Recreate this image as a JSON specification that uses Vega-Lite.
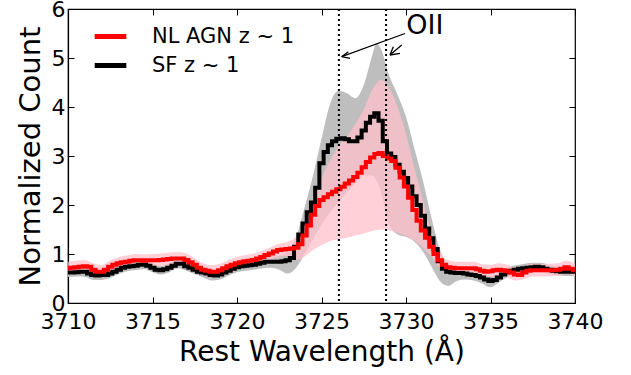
{
  "$schema": "https://vega.github.io/schema/vega-lite/v6.json",
  "width": 507,
  "height": 294,
  "autosize": {"type": "none"},
  "padding": {"left": 68, "top": 9, "right": 56, "bottom": 72},
  "background": "white",
  "config": {
    "font": "DejaVu Sans",
    "view": {"stroke": "black", "strokeWidth": 1.2},
    "axis": {"labelFont": "DejaVu Sans", "titleFont": "DejaVu Sans", "labelColor": "black", "titleColor": "black", "domainColor": "black", "tickColor": "black", "grid": false, "titleFontWeight": "normal", "labelFlush": false, "labelOverlap": false}
  },
  "datasets": {
    "lines": [
      {"w": 3710.00, "sf": 0.62, "agn": 0.71}, {"w": 3710.25, "sf": 0.62, "agn": 0.72}, {"w": 3710.50, "sf": 0.63, "agn": 0.73}, {"w": 3710.75, "sf": 0.64, "agn": 0.74},
      {"w": 3711.00, "sf": 0.64, "agn": 0.75}, {"w": 3711.25, "sf": 0.60, "agn": 0.74}, {"w": 3711.50, "sf": 0.57, "agn": 0.68}, {"w": 3711.75, "sf": 0.56, "agn": 0.64},
      {"w": 3712.00, "sf": 0.57, "agn": 0.64}, {"w": 3712.25, "sf": 0.57, "agn": 0.68}, {"w": 3712.50, "sf": 0.60, "agn": 0.74}, {"w": 3712.75, "sf": 0.64, "agn": 0.78},
      {"w": 3713.00, "sf": 0.68, "agn": 0.81}, {"w": 3713.25, "sf": 0.72, "agn": 0.83}, {"w": 3713.50, "sf": 0.74, "agn": 0.84}, {"w": 3713.75, "sf": 0.75, "agn": 0.86},
      {"w": 3714.00, "sf": 0.76, "agn": 0.87}, {"w": 3714.25, "sf": 0.78, "agn": 0.87}, {"w": 3714.50, "sf": 0.78, "agn": 0.86}, {"w": 3714.75, "sf": 0.76, "agn": 0.87},
      {"w": 3715.00, "sf": 0.72, "agn": 0.87}, {"w": 3715.25, "sf": 0.68, "agn": 0.87}, {"w": 3715.50, "sf": 0.67, "agn": 0.88}, {"w": 3715.75, "sf": 0.69, "agn": 0.89},
      {"w": 3716.00, "sf": 0.72, "agn": 0.90}, {"w": 3716.25, "sf": 0.76, "agn": 0.91}, {"w": 3716.50, "sf": 0.80, "agn": 0.91}, {"w": 3716.75, "sf": 0.80, "agn": 0.91},
      {"w": 3717.00, "sf": 0.75, "agn": 0.88}, {"w": 3717.25, "sf": 0.72, "agn": 0.83}, {"w": 3717.50, "sf": 0.68, "agn": 0.78}, {"w": 3717.75, "sf": 0.64, "agn": 0.72},
      {"w": 3718.00, "sf": 0.62, "agn": 0.68}, {"w": 3718.25, "sf": 0.60, "agn": 0.66}, {"w": 3718.50, "sf": 0.57, "agn": 0.64}, {"w": 3718.75, "sf": 0.56, "agn": 0.64},
      {"w": 3719.00, "sf": 0.58, "agn": 0.67}, {"w": 3719.25, "sf": 0.62, "agn": 0.71}, {"w": 3719.50, "sf": 0.66, "agn": 0.75}, {"w": 3719.75, "sf": 0.70, "agn": 0.78},
      {"w": 3720.00, "sf": 0.73, "agn": 0.81}, {"w": 3720.25, "sf": 0.75, "agn": 0.83}, {"w": 3720.50, "sf": 0.76, "agn": 0.85}, {"w": 3720.75, "sf": 0.77, "agn": 0.86},
      {"w": 3721.00, "sf": 0.78, "agn": 0.88}, {"w": 3721.25, "sf": 0.80, "agn": 0.91}, {"w": 3721.50, "sf": 0.82, "agn": 0.94}, {"w": 3721.75, "sf": 0.84, "agn": 0.98},
      {"w": 3722.00, "sf": 0.84, "agn": 1.01}, {"w": 3722.25, "sf": 0.84, "agn": 1.05}, {"w": 3722.50, "sf": 0.84, "agn": 1.08}, {"w": 3722.75, "sf": 0.85, "agn": 1.09},
      {"w": 3723.00, "sf": 0.87, "agn": 1.10}, {"w": 3723.25, "sf": 0.92, "agn": 1.11}, {"w": 3723.50, "sf": 1.15, "agn": 1.13}, {"w": 3723.75, "sf": 1.40, "agn": 1.20},
      {"w": 3724.00, "sf": 1.62, "agn": 1.38}, {"w": 3724.25, "sf": 1.85, "agn": 1.58}, {"w": 3724.50, "sf": 2.05, "agn": 1.80}, {"w": 3724.75, "sf": 2.35, "agn": 1.98},
      {"w": 3725.00, "sf": 2.85, "agn": 2.10}, {"w": 3725.25, "sf": 3.08, "agn": 2.16}, {"w": 3725.50, "sf": 3.22, "agn": 2.22}, {"w": 3725.75, "sf": 3.30, "agn": 2.27},
      {"w": 3726.00, "sf": 3.35, "agn": 2.32}, {"w": 3726.25, "sf": 3.36, "agn": 2.37}, {"w": 3726.50, "sf": 3.34, "agn": 2.44}, {"w": 3726.75, "sf": 3.30, "agn": 2.50},
      {"w": 3727.00, "sf": 3.30, "agn": 2.57}, {"w": 3727.25, "sf": 3.38, "agn": 2.66}, {"w": 3727.50, "sf": 3.52, "agn": 2.77}, {"w": 3727.75, "sf": 3.68, "agn": 2.88},
      {"w": 3728.00, "sf": 3.80, "agn": 2.97}, {"w": 3728.25, "sf": 3.87, "agn": 3.04}, {"w": 3728.50, "sf": 3.72, "agn": 3.06}, {"w": 3728.75, "sf": 3.30, "agn": 3.00},
      {"w": 3729.00, "sf": 3.05, "agn": 2.95}, {"w": 3729.25, "sf": 2.98, "agn": 2.90}, {"w": 3729.50, "sf": 2.82, "agn": 2.76}, {"w": 3729.75, "sf": 2.68, "agn": 2.56},
      {"w": 3730.00, "sf": 2.55, "agn": 2.38}, {"w": 3730.25, "sf": 2.38, "agn": 2.15}, {"w": 3730.50, "sf": 2.18, "agn": 1.90}, {"w": 3730.75, "sf": 2.00, "agn": 1.68},
      {"w": 3731.00, "sf": 1.78, "agn": 1.48}, {"w": 3731.25, "sf": 1.52, "agn": 1.33}, {"w": 3731.50, "sf": 1.32, "agn": 1.15}, {"w": 3731.75, "sf": 1.10, "agn": 1.00},
      {"w": 3732.00, "sf": 0.85, "agn": 0.87}, {"w": 3732.25, "sf": 0.70, "agn": 0.78}, {"w": 3732.50, "sf": 0.64, "agn": 0.73}, {"w": 3732.75, "sf": 0.62, "agn": 0.72},
      {"w": 3733.00, "sf": 0.61, "agn": 0.71}, {"w": 3733.25, "sf": 0.61, "agn": 0.71}, {"w": 3733.50, "sf": 0.60, "agn": 0.71}, {"w": 3733.75, "sf": 0.58, "agn": 0.71},
      {"w": 3734.00, "sf": 0.57, "agn": 0.71}, {"w": 3734.25, "sf": 0.55, "agn": 0.69}, {"w": 3734.50, "sf": 0.52, "agn": 0.66}, {"w": 3734.75, "sf": 0.48, "agn": 0.64},
      {"w": 3735.00, "sf": 0.45, "agn": 0.65}, {"w": 3735.25, "sf": 0.47, "agn": 0.67}, {"w": 3735.50, "sf": 0.52, "agn": 0.68}, {"w": 3735.75, "sf": 0.58, "agn": 0.67},
      {"w": 3736.00, "sf": 0.63, "agn": 0.65}, {"w": 3736.25, "sf": 0.66, "agn": 0.62}, {"w": 3736.50, "sf": 0.68, "agn": 0.58}, {"w": 3736.75, "sf": 0.70, "agn": 0.57},
      {"w": 3737.00, "sf": 0.71, "agn": 0.62}, {"w": 3737.25, "sf": 0.72, "agn": 0.66}, {"w": 3737.50, "sf": 0.73, "agn": 0.67}, {"w": 3737.75, "sf": 0.74, "agn": 0.67},
      {"w": 3738.00, "sf": 0.73, "agn": 0.67}, {"w": 3738.25, "sf": 0.70, "agn": 0.67}, {"w": 3738.50, "sf": 0.68, "agn": 0.67}, {"w": 3738.75, "sf": 0.66, "agn": 0.67},
      {"w": 3739.00, "sf": 0.65, "agn": 0.68}, {"w": 3739.25, "sf": 0.64, "agn": 0.70}, {"w": 3739.50, "sf": 0.64, "agn": 0.73}, {"w": 3739.75, "sf": 0.64, "agn": 0.70},
      {"w": 3740.00, "sf": 0.64, "agn": 0.67}
    ],
    "bands": [
      {"w": 3710.0, "sf_lo": 0.53, "sf_hi": 0.71, "agn_lo": 0.60, "agn_hi": 0.84},
      {"w": 3710.5, "sf_lo": 0.54, "sf_hi": 0.72, "agn_lo": 0.61, "agn_hi": 0.86},
      {"w": 3711.0, "sf_lo": 0.53, "sf_hi": 0.72, "agn_lo": 0.63, "agn_hi": 0.88},
      {"w": 3711.5, "sf_lo": 0.47, "sf_hi": 0.66, "agn_lo": 0.56, "agn_hi": 0.81},
      {"w": 3712.0, "sf_lo": 0.47, "sf_hi": 0.66, "agn_lo": 0.53, "agn_hi": 0.77},
      {"w": 3712.5, "sf_lo": 0.51, "sf_hi": 0.69, "agn_lo": 0.62, "agn_hi": 0.87},
      {"w": 3713.0, "sf_lo": 0.59, "sf_hi": 0.77, "agn_lo": 0.69, "agn_hi": 0.94},
      {"w": 3713.5, "sf_lo": 0.65, "sf_hi": 0.83, "agn_lo": 0.72, "agn_hi": 0.97},
      {"w": 3714.0, "sf_lo": 0.67, "sf_hi": 0.85, "agn_lo": 0.74, "agn_hi": 1.00},
      {"w": 3714.5, "sf_lo": 0.69, "sf_hi": 0.87, "agn_lo": 0.74, "agn_hi": 0.99},
      {"w": 3715.0, "sf_lo": 0.63, "sf_hi": 0.81, "agn_lo": 0.75, "agn_hi": 1.00},
      {"w": 3715.5, "sf_lo": 0.58, "sf_hi": 0.76, "agn_lo": 0.76, "agn_hi": 1.01},
      {"w": 3716.0, "sf_lo": 0.63, "sf_hi": 0.81, "agn_lo": 0.78, "agn_hi": 1.03},
      {"w": 3716.5, "sf_lo": 0.71, "sf_hi": 0.89, "agn_lo": 0.79, "agn_hi": 1.04},
      {"w": 3717.0, "sf_lo": 0.66, "sf_hi": 0.84, "agn_lo": 0.76, "agn_hi": 1.01},
      {"w": 3717.5, "sf_lo": 0.59, "sf_hi": 0.77, "agn_lo": 0.66, "agn_hi": 0.91},
      {"w": 3718.0, "sf_lo": 0.52, "sf_hi": 0.71, "agn_lo": 0.56, "agn_hi": 0.81},
      {"w": 3718.5, "sf_lo": 0.46, "sf_hi": 0.66, "agn_lo": 0.52, "agn_hi": 0.77},
      {"w": 3719.0, "sf_lo": 0.48, "sf_hi": 0.67, "agn_lo": 0.55, "agn_hi": 0.80},
      {"w": 3719.5, "sf_lo": 0.56, "sf_hi": 0.75, "agn_lo": 0.63, "agn_hi": 0.88},
      {"w": 3720.0, "sf_lo": 0.63, "sf_hi": 0.82, "agn_lo": 0.69, "agn_hi": 0.94},
      {"w": 3720.5, "sf_lo": 0.66, "sf_hi": 0.86, "agn_lo": 0.73, "agn_hi": 0.98},
      {"w": 3721.0, "sf_lo": 0.68, "sf_hi": 0.88, "agn_lo": 0.76, "agn_hi": 1.01},
      {"w": 3721.5, "sf_lo": 0.71, "sf_hi": 0.92, "agn_lo": 0.82, "agn_hi": 1.07},
      {"w": 3722.0, "sf_lo": 0.72, "sf_hi": 0.95, "agn_lo": 0.88, "agn_hi": 1.14},
      {"w": 3722.5, "sf_lo": 0.68, "sf_hi": 0.97, "agn_lo": 0.94, "agn_hi": 1.21},
      {"w": 3723.0, "sf_lo": 0.60, "sf_hi": 1.05, "agn_lo": 0.96, "agn_hi": 1.25},
      {"w": 3723.5, "sf_lo": 0.72, "sf_hi": 1.35, "agn_lo": 0.88, "agn_hi": 1.35},
      {"w": 3724.0, "sf_lo": 1.00, "sf_hi": 1.95, "agn_lo": 0.95, "agn_hi": 1.65},
      {"w": 3724.5, "sf_lo": 1.30, "sf_hi": 2.60, "agn_lo": 1.08, "agn_hi": 2.10},
      {"w": 3725.0, "sf_lo": 1.60, "sf_hi": 3.35, "agn_lo": 1.18, "agn_hi": 2.55},
      {"w": 3725.5, "sf_lo": 1.85, "sf_hi": 4.05, "agn_lo": 1.26, "agn_hi": 2.90},
      {"w": 3726.0, "sf_lo": 2.05, "sf_hi": 4.33, "agn_lo": 1.30, "agn_hi": 3.20},
      {"w": 3726.5, "sf_lo": 2.25, "sf_hi": 4.28, "agn_lo": 1.33, "agn_hi": 3.40},
      {"w": 3727.0, "sf_lo": 2.45, "sf_hi": 4.18, "agn_lo": 1.38, "agn_hi": 3.65},
      {"w": 3727.5, "sf_lo": 2.60, "sf_hi": 4.45, "agn_lo": 1.42, "agn_hi": 3.95},
      {"w": 3728.0, "sf_lo": 2.60, "sf_hi": 5.05, "agn_lo": 1.47, "agn_hi": 4.35},
      {"w": 3728.25, "sf_lo": 2.50, "sf_hi": 5.30, "agn_lo": 1.49, "agn_hi": 4.48},
      {"w": 3728.5, "sf_lo": 2.30, "sf_hi": 5.20, "agn_lo": 1.50, "agn_hi": 4.55},
      {"w": 3729.0, "sf_lo": 1.60, "sf_hi": 4.65, "agn_lo": 1.48, "agn_hi": 4.40},
      {"w": 3729.5, "sf_lo": 1.40, "sf_hi": 4.25, "agn_lo": 1.43, "agn_hi": 4.00},
      {"w": 3730.0, "sf_lo": 1.35, "sf_hi": 3.80, "agn_lo": 1.37, "agn_hi": 3.45},
      {"w": 3730.5, "sf_lo": 1.25, "sf_hi": 3.15, "agn_lo": 1.27, "agn_hi": 2.75},
      {"w": 3731.0, "sf_lo": 1.05, "sf_hi": 2.50, "agn_lo": 1.12, "agn_hi": 2.10},
      {"w": 3731.5, "sf_lo": 0.75, "sf_hi": 1.75, "agn_lo": 0.95, "agn_hi": 1.45},
      {"w": 3732.0, "sf_lo": 0.45, "sf_hi": 1.10, "agn_lo": 0.72, "agn_hi": 1.05},
      {"w": 3732.5, "sf_lo": 0.35, "sf_hi": 0.80, "agn_lo": 0.60, "agn_hi": 0.87},
      {"w": 3733.0, "sf_lo": 0.45, "sf_hi": 0.72, "agn_lo": 0.58, "agn_hi": 0.84},
      {"w": 3733.5, "sf_lo": 0.48, "sf_hi": 0.70, "agn_lo": 0.58, "agn_hi": 0.84},
      {"w": 3734.0, "sf_lo": 0.46, "sf_hi": 0.68, "agn_lo": 0.58, "agn_hi": 0.84},
      {"w": 3734.5, "sf_lo": 0.40, "sf_hi": 0.62, "agn_lo": 0.53, "agn_hi": 0.79},
      {"w": 3735.0, "sf_lo": 0.32, "sf_hi": 0.55, "agn_lo": 0.52, "agn_hi": 0.78},
      {"w": 3735.5, "sf_lo": 0.42, "sf_hi": 0.62, "agn_lo": 0.55, "agn_hi": 0.81},
      {"w": 3736.0, "sf_lo": 0.53, "sf_hi": 0.73, "agn_lo": 0.52, "agn_hi": 0.78},
      {"w": 3736.5, "sf_lo": 0.59, "sf_hi": 0.77, "agn_lo": 0.46, "agn_hi": 0.72},
      {"w": 3737.0, "sf_lo": 0.62, "sf_hi": 0.80, "agn_lo": 0.49, "agn_hi": 0.75},
      {"w": 3737.5, "sf_lo": 0.64, "sf_hi": 0.82, "agn_lo": 0.54, "agn_hi": 0.80},
      {"w": 3738.0, "sf_lo": 0.64, "sf_hi": 0.82, "agn_lo": 0.54, "agn_hi": 0.80},
      {"w": 3738.5, "sf_lo": 0.59, "sf_hi": 0.77, "agn_lo": 0.54, "agn_hi": 0.80},
      {"w": 3739.0, "sf_lo": 0.56, "sf_hi": 0.74, "agn_lo": 0.55, "agn_hi": 0.81},
      {"w": 3739.5, "sf_lo": 0.55, "sf_hi": 0.73, "agn_lo": 0.60, "agn_hi": 0.86},
      {"w": 3740.0, "sf_lo": 0.55, "sf_hi": 0.73, "agn_lo": 0.54, "agn_hi": 0.80}
    ],
    "oii": [{"w": 3726.03}, {"w": 3728.82}],
    "arrows": [
      {"x1": 3729.94, "y1": 5.50, "x2": 3726.195, "y2": 5.027},
      {"x1": 3726.195, "y1": 5.027, "x2": 3726.586, "y2": 5.129},
      {"x1": 3726.195, "y1": 5.027, "x2": 3726.686, "y2": 4.994},
      {"x1": 3729.746, "y1": 5.265, "x2": 3729.053, "y2": 5.061},
      {"x1": 3729.053, "y1": 5.061, "x2": 3729.25, "y2": 5.231},
      {"x1": 3729.053, "y1": 5.061, "x2": 3729.645, "y2": 5.096}
    ],
    "label": [{"w": 3731.12, "y": 5.5, "t": "OII"}]
  },
  "layer": [
    {
      "data": {"name": "bands"},
      "mark": {"type": "area", "interpolate": "monotone", "color": "#bebebe", "clip": true},
      "encoding": {
        "x": {"field": "w", "type": "quantitative", "scale": {"domain": [3710, 3740], "nice": false, "zero": false},
          "axis": {"orient": "bottom", "values": [3710, 3715, 3720, 3725, 3730, 3735, 3740], "format": "d", "tickSize": -6, "tickWidth": 1, "domainWidth": 1.2, "labelFontSize": 22, "labelPadding": 14, "title": "Rest Wavelength (Å)", "titleFontSize": 28, "titlePadding": 6}},
        "y": {"field": "sf_lo", "type": "quantitative", "scale": {"domain": [0, 6], "nice": false},
          "axis": {"orient": "left", "values": [0, 1, 2, 3, 4, 5, 6], "format": "d", "tickSize": -6, "tickWidth": 1, "domainWidth": 1.2, "labelFontSize": 22, "labelPadding": 9, "title": "Normalized Count", "titleFontSize": 29, "titlePadding": 6}},
        "y2": {"field": "sf_hi"}
      }
    },
    {
      "data": {"name": "bands"},
      "mark": {"type": "area", "interpolate": "monotone", "color": "#ffc0cb", "opacity": 0.75, "clip": true},
      "encoding": {
        "x": {"field": "w", "type": "quantitative", "axis": null},
        "y": {"field": "agn_lo", "type": "quantitative", "axis": null},
        "y2": {"field": "agn_hi"}
      }
    },
    {
      "data": {"name": "lines"},
      "mark": {"type": "line", "interpolate": "step", "strokeWidth": 4, "clip": true},
      "encoding": {
        "x": {"field": "w", "type": "quantitative", "axis": null},
        "y": {"field": "sf", "type": "quantitative", "axis": null},
        "color": {"datum": "SF z ~ 1", "type": "nominal",
          "scale": {"domain": ["NL AGN z ~ 1", "SF z ~ 1"], "range": ["#ff0000", "#000000"]},
          "legend": {"orient": "none", "legendX": 24, "legendY": 9, "title": null, "symbolType": "stroke", "symbolSize": 1000, "symbolStrokeWidth": 5, "labelFontSize": 21, "labelFont": "DejaVu Sans", "labelColor": "black", "labelOffset": 23, "rowPadding": 0, "padding": 0}}
      }
    },
    {
      "data": {"name": "lines"},
      "mark": {"type": "line", "interpolate": "step", "strokeWidth": 4, "clip": true},
      "encoding": {
        "x": {"field": "w", "type": "quantitative", "axis": null},
        "y": {"field": "agn", "type": "quantitative", "axis": null},
        "color": {"datum": "NL AGN z ~ 1", "type": "nominal"}
      }
    },
    {
      "data": {"name": "oii"},
      "mark": {"type": "rule", "strokeDash": [2, 3], "strokeWidth": 2, "color": "black"},
      "encoding": {
        "x": {"field": "w", "type": "quantitative",
          "axis": {"orient": "top", "values": [3710, 3715, 3720, 3725, 3730, 3735, 3740], "tickSize": -6, "tickWidth": 1, "labels": false, "domain": false, "title": null}}
      }
    },
    {
      "data": {"name": "arrows"},
      "mark": {"type": "rule", "color": "black", "strokeWidth": 1.3},
      "encoding": {
        "x": {"field": "x1", "type": "quantitative", "axis": null},
        "y": {"field": "y1", "type": "quantitative",
          "axis": {"orient": "right", "values": [0, 1, 2, 3, 4, 5, 6], "tickSize": -6, "tickWidth": 1, "labels": false, "domain": false, "title": null}},
        "x2": {"field": "x2"},
        "y2": {"field": "y2"}
      }
    },
    {
      "data": {"name": "label"},
      "mark": {"type": "text", "fontSize": 27, "align": "center", "baseline": "alphabetic", "font": "DejaVu Sans", "color": "black"},
      "encoding": {
        "x": {"field": "w", "type": "quantitative", "axis": null},
        "y": {"field": "y", "type": "quantitative", "axis": null},
        "text": {"field": "t"}
      }
    }
  ],
  "resolve": {"axis": {"x": "independent", "y": "independent"}}
}
